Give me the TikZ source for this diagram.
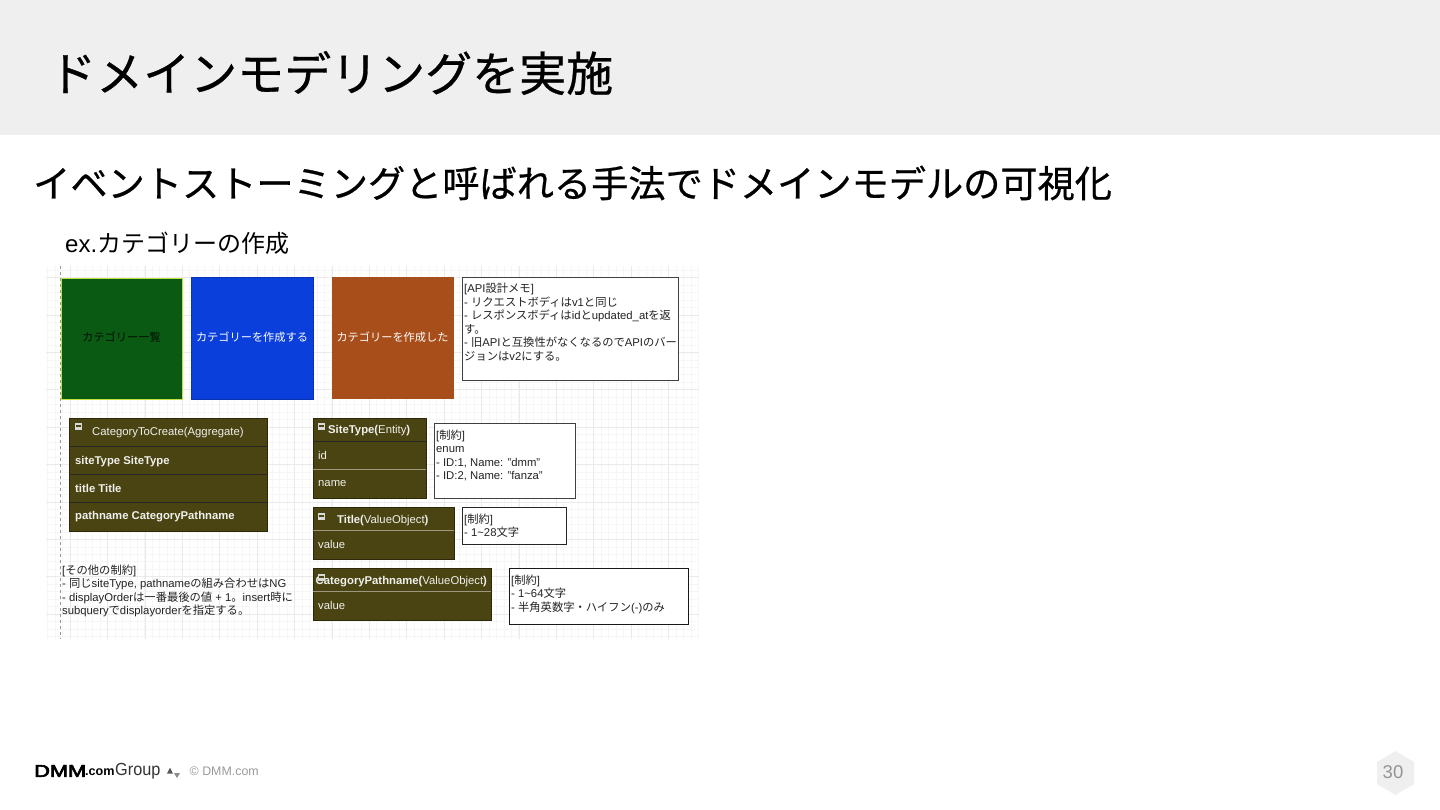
\documentclass[tikz,border=0pt]{standalone}
\usepackage{fontspec}
\setmainfont{Liberation Sans}
\newfontfamily\cjk{Noto Sans CJK JP}
\newfontfamily\cjkhead[FakeBold=0.6]{Noto Sans CJK JP}
\newfontfamily\heavy[FakeBold=3.5]{Liberation Sans}
\newcommand{\J}[1]{{\cjk #1}}
\definecolor{band}{HTML}{EFEFEF}
\definecolor{gridminor}{HTML}{F6F6F6}
\definecolor{gridmajor}{HTML}{EAEAEA}
\definecolor{olivebox}{HTML}{4A4413}
\definecolor{greenbox}{HTML}{0B5A14}
\definecolor{bluebox}{HTML}{0A3FDC}
\definecolor{brownbox}{HTML}{A84E1B}
\definecolor{inktext}{HTML}{222222}
\definecolor{footgrey}{HTML}{9A9A9A}
\tikzset{
  x=1pt,y=-1pt,
  sticky/.style={line width=0.8pt},
  notebox/.style={draw=black!75,fill=white,line width=1pt},
  uml/.style={fill=olivebox,draw=olivebox!60!black,line width=0.7pt},
  rowline/.style={draw=black!85,line width=0.7pt},
  softline/.style={draw=white!45!olivebox,line width=0.6pt},
  notetext/.style={anchor=north west,align=left,inner sep=0pt,text=inktext,font=\fontsize{11.3}{13.5}\selectfont},
  umltext/.style={anchor=west,inner sep=0pt,text=white!92!olivebox,font=\fontsize{11.3}{14}\selectfont},
  umlbold/.style={umltext,font=\fontsize{11.3}{14}\selectfont\bfseries},
  stickytext/.style={inner sep=0pt,font=\fontsize{11.2}{14}\selectfont},
  minus/.style={fill=white!85!black,draw=none},
}
\newcommand{\minusicon}[2]{\fill[minus] (#1-3.5,#2-3.5) rectangle (#1+3.5,#2+3.5);\fill[olivebox] (#1-2.5,#2-0.7) rectangle (#1+2.5,#2+0.7);}
\begin{document}
\begin{tikzpicture}
\useasboundingbox (0,0) rectangle (1440,810);
\fill[white] (0,0) rectangle (1440,810);
\fill[band] (0,0) rectangle (1440,135);
\node[anchor=west,inner sep=0pt,font=\fontsize{47}{56}\selectfont\cjkhead] (title) at (49,73) {ドメインモデリングを実施};
\node[anchor=west,inner sep=0pt,font=\fontsize{37.2}{44}\selectfont\cjkhead] (subtitle) at (33,183) {イベントストーミングと呼ばれる手法でドメインモデルの可視化};
\node[anchor=west,inner sep=0pt,font=\fontsize{24}{28}\selectfont] (example) at (65,243) {ex.\J{カテゴリーの作成}};
% grid
\foreach \i in {0,...,87} \draw[gridminor,line width=0.5pt] (47.5+7.48*\i,266) -- (47.5+7.48*\i,639);
\foreach \i in {0,...,49} \draw[gridminor,line width=0.5pt] (46,270+7.48*\i) -- (699,270+7.48*\i);
\foreach \i in {0,...,16} \draw[gridmajor,line width=0.5pt] (70+37.4*\i,266) -- (70+37.4*\i,639);
\foreach \i in {0,...,9} \draw[gridmajor,line width=0.5pt] (46,277.5+37.4*\i) -- (699,277.5+37.4*\i);
\draw[black!40,dash pattern=on 3pt off 3pt,line width=0.6pt] (60.5,266) -- (60.5,639);
% stickies
\draw[sticky,fill=greenbox,draw=yellow!70!green!80!white] (61,278) rectangle (182,399);
\node[stickytext,text=black!85!greenbox] (s1) at (121.5,337.5) {\J{カテゴリー一覧}};
\draw[sticky,fill=bluebox,draw=bluebox!80!black] (191,277) rectangle (313,399);
\node[stickytext,text=white] (s2) at (252,337.5) {\J{カテゴリーを作成する}};
\fill[brownbox] (332,277) rectangle (454,399);
\node[stickytext,text=white] (s3) at (392.5,337.5) {\J{カテゴリーを作成した}};
% API memo
\draw[notebox] (462.5,277.5) rectangle (678,380.5);
\node[notetext] (memo) at (464,283.3) {[API\J{設計メモ}]\\- \J{リクエストボディは}v1\J{と同じ}\\- \J{レスポンスボディは}id\J{と}updated\_at\J{を返}\\\J{す。}\\- \J{旧}API\J{と互換性がなくなるので}API\J{のバー}\\\J{ジョンは}v2\J{にする。}};
% aggregate
\draw[uml] (69.5,418) rectangle (267,531);
\draw[rowline] (69.5,446) -- (267,446) (69.5,474.5) -- (267,474.5) (69.5,502.5) -- (267,502.5);
\minusicon{78}{426}
\node[umltext] (agg) at (92,433) {CategoryToCreate(Aggregate)};
\node[umlbold] (agg1) at (75,461.5) {siteType SiteType};
\node[umlbold] (agg2) at (75,488) {title Title};
\node[umlbold] (agg3) at (75,517) {pathname CategoryPathname};
% SiteType
\draw[uml] (313,418) rectangle (426,498);
\draw[rowline] (313,441) -- (426,441);
\draw[softline] (313,469.5) -- (426,469.5);
\minusicon{321}{426}
\node[umltext] (st) at (328,431) {\textbf{SiteType(}Entity\textbf{)}};
\node[umltext] (st1) at (318,455) {id};
\node[umltext] (st2) at (318,484) {name};
\draw[notebox] (434.5,423) rectangle (575.5,498);
\node[notetext] (stn) at (436,429.5) {[\J{制約}]\\enum\\- ID:1, Name: "dmm"\\- ID:2, Name: "fanza"};
% Title
\draw[uml] (313,507) rectangle (454,559);
\draw[softline] (313,530) -- (454,530);
\minusicon{321}{516}
\node[umltext] (tt) at (337,520.5) {\textbf{Title(}ValueObject\textbf{)}};
\node[umltext] (tt1) at (318,544) {value};
\draw[notebox,draw=black!85] (462.5,507.5) rectangle (566,544.5);
\node[notetext] (ttn) at (464,513.5) {[\J{制約}]\\- 1\textasciitilde 28\J{文字}};
% CategoryPathname
\draw[uml] (313,568) rectangle (491,620);
\draw[softline] (313,591) -- (491,591);
\node[umltext] (cp) at (315.5,581.5) {\textbf{CategoryPathname(}ValueObject\textbf{)}};
\minusicon{321}{577}
\node[umltext] (cp1) at (318,605) {value};
\draw[notebox,draw=black!90] (509.5,568.5) rectangle (688,624.5);
\node[notetext] (cpn) at (511,574.5) {[\J{制約}]\\- 1\textasciitilde 64\J{文字}\\- \J{半角英数字・ハイフン}(-)\J{のみ}};
% other
\node[notetext] (other) at (62,564.5) {[\J{その他の制約}]\\- \J{同じ}siteType, pathname\J{の組み合わせは}NG\\- displayOrder\J{は一番最後の値} + 1\J{。}insert\J{時に}\\subquery\J{で}displayorder\J{を指定する。}};
% footer
\begin{scope}[transform shape]
\node[anchor=west,inner sep=0pt,font=\fontsize{17}{20}\selectfont\heavy,xscale=1.28] (dmm) at (34,771) {DMM};
\node[anchor=west,inner sep=0pt,font=\fontsize{17.5}{20}\selectfont,text=black!80,xscale=0.93] (group) at (115,771) {Group};
\end{scope}
\node[anchor=west,inner sep=0pt,font=\fontsize{12.6}{16}\selectfont\bfseries] (com) at (85,772) {.com};
\fill[black!65] (167,773.5) -- (170,767.5) -- (173,773.5) -- cycle;
\fill[black!45] (174,773) -- (180,773) -- (177,778) -- cycle;
\node[anchor=west,inner sep=0pt,font=\fontsize{12.4}{14}\selectfont,text=footgrey] (copy) at (189.5,771) {© DMM.com};
\fill[band] (1395.5,751) -- (1414,762) -- (1414,784) -- (1395.5,795) -- (1377,784) -- (1377,762) -- cycle;
\node[inner sep=0pt,font=\fontsize{18.5}{22}\selectfont,text=black!42] (page) at (1393,772.5) {30};
\end{tikzpicture}
\end{document}
